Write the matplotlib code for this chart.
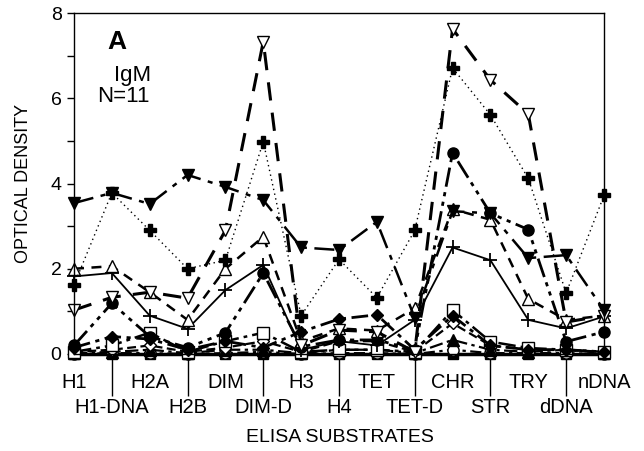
import matplotlib
matplotlib.use("Agg")
import matplotlib.pyplot as plt

plt.rcParams['font.family'] = ['Liberation Sans', 'DejaVu Sans']

categories = ['H1', 'H1-DNA', 'H2A', 'H2B', 'DIM', 'DIM-D', 'H3', 'H4',
              'TET', 'TET-D', 'CHR', 'STR', 'TRY', 'dDNA', 'nDNA']

tri_down_filled = [3.54, 3.78, 3.52, 4.20, 3.92, 3.61, 2.50, 2.44, 3.10, 0.85, 3.35, 3.30, 2.25, 2.32, 1.03]
tri_down_open   = [1.03, 1.33, 1.45, 1.31, 2.90, 7.33, 0.20, 0.56, 0.52, 0.05, 7.63, 6.43, 5.63, 0.75, 0.90]
bold_plus       = [1.62, 3.78, 2.90, 2.00, 2.20, 4.98, 0.90, 2.22, 1.32, 2.90, 6.71, 5.61, 4.12, 1.43, 3.72]
tri_up_open     = [2.00, 2.06, 1.45, 0.80, 2.00, 2.75, 0.30, 0.60, 0.55, 1.07, 3.40, 3.15, 1.29, 0.80, 0.90]
thin_plus       = [1.82, 1.90, 0.90, 0.59, 1.50, 2.09, 0.10, 0.30, 0.20, 0.80, 2.50, 2.20, 0.80, 0.60, 0.88]
circle_filled   = [0.20, 1.19, 0.41, 0.15, 0.50, 1.90, 0.17, 0.33, 0.33, 0.10, 4.72, 3.30, 2.92, 0.29, 0.52]
diamond_filled  = [0.15, 0.41, 0.35, 0.10, 0.30, 0.15, 0.52, 0.82, 0.92, 0.10, 0.90, 0.20, 0.10, 0.10, 0.05]
square_open     = [0.05, 0.20, 0.50, 0.05, 0.30, 0.50, 0.05, 0.10, 0.10, 0.05, 1.03, 0.29, 0.14, 0.10, 0.05]
diamond_open    = [0.05, 0.10, 0.20, 0.05, 0.15, 0.30, 0.05, 0.30, 0.30, 0.05, 0.72, 0.20, 0.10, 0.10, 0.05]
tri_up_filled   = [0.02, 0.05, 0.10, 0.02, 0.10, 0.10, 0.02, 0.10, 0.10, 0.02, 0.33, 0.10, 0.05, 0.10, 0.02]
circle_open     = [0.00, 0.02, 0.02, 0.00, 0.02, 0.05, 0.00, 0.02, 0.02, 0.00, 0.10, 0.02, 0.02, 0.02, 0.00]
square_filled   = [0.00, 0.00, 0.00, 0.00, 0.00, 0.00, 0.00, 0.00, 0.00, 0.00, 0.00, 0.00, 0.00, 0.00, 0.00]

y_ticks = [0, 2, 4, 6, 8]

fig = plt.figure(figsize=(6.44, 4.51), dpi=100)
ax = fig.add_axes([74/644, 1 - 354/451, 530/644, 341/451])
x = list(range(len(categories)))

K = 'black'
series = [
    (square_filled,   dict(marker='s', mfc=K, ms=7, ls='-', lw=2.5)),
    (circle_open,     dict(marker='o', mfc='white', ms=8, ls=(0, (5, 2, 1.5, 2)), lw=1.6)),
    (tri_up_filled,   dict(marker='^', mfc=K, ms=8, ls=(0, (6, 2, 1.5, 2)), lw=1.6)),
    (diamond_open,    dict(marker='D', mfc='white', ms=6.5, ls=(0, (4, 2)), lw=1.6)),
    (square_open,     dict(marker='s', mfc='white', ms=8, ls=(0, (7, 2, 1.5, 2)), lw=1.8)),
    (diamond_filled,  dict(marker='D', mfc=K, ms=6.5, ls=(0, (6, 2, 1.5, 2)), lw=2.0)),
    (circle_filled,   dict(marker='o', mfc=K, ms=8, ls=(0, (7, 2, 1.5, 2, 1.5, 2)), lw=2.0)),
    (thin_plus,       dict(marker='+', mfc=K, ms=10, mew=1.3, ls='-', lw=1.3)),
    (tri_up_open,     dict(marker='^', mfc='white', ms=9, ls=(0, (4, 3)), lw=1.8)),
    (bold_plus,       dict(marker='P', mfc=K, ms=8, ls=(0, (1, 2.5)), lw=1.0)),
    (tri_down_open,   dict(marker='v', mfc='white', ms=8.5, ls=(0, (6, 4)), lw=2.2)),
    (tri_down_filled, dict(marker='v', mfc=K, ms=9, ls=(0, (8, 3, 2, 3)), lw=1.8)),
]
for vals, st in series:
    ax.plot(x, vals, color=K, mec=K, clip_on=False, **st)

ax.set_xlim(0, 14)
ax.set_ylim(0, 8)
ax.set_yticks(y_ticks)
ax.set_yticklabels([str(v) for v in y_ticks], fontsize=14)
ax.set_yticks([1, 3, 5, 7], minor=True)
ax.tick_params(axis='y', which='both', direction='out', length=5, width=1, pad=4)

odd = [i for i in x if i % 2 == 1]
even = [i for i in x if i % 2 == 0]
ax.set_xticks(odd, [categories[i] for i in odd])
ax.set_xticks(even, [categories[i] for i in even], minor=True)
ax.tick_params(axis='x', which='major', direction='out', length=30, width=1, pad=1.5, labelsize=14.5)
ax.tick_params(axis='x', which='minor', length=0, pad=13.5, labelsize=14.5)
for sp in ax.spines.values():
    sp.set_linewidth(1.0)

ax.set_ylabel('OPTICAL DENSITY', fontsize=13)
ax.yaxis.set_label_coords(-0.08, 0.5)
fig.text(0.528, 1 - 437/451, 'ELISA SUBSTRATES', ha='center', va='center', fontsize=14)

fig.text(117/644, 1 - 42/451, 'A', fontsize=19, fontweight='bold', ha='center', va='center')
fig.text(133/644, 1 - 76/451, 'IgM', ha='center', va='center', fontsize=16)
fig.text(123/644, 1 - 97/451, 'N=11', ha='center', va='center', fontsize=16)

fig.savefig('out.png', dpi=100)
